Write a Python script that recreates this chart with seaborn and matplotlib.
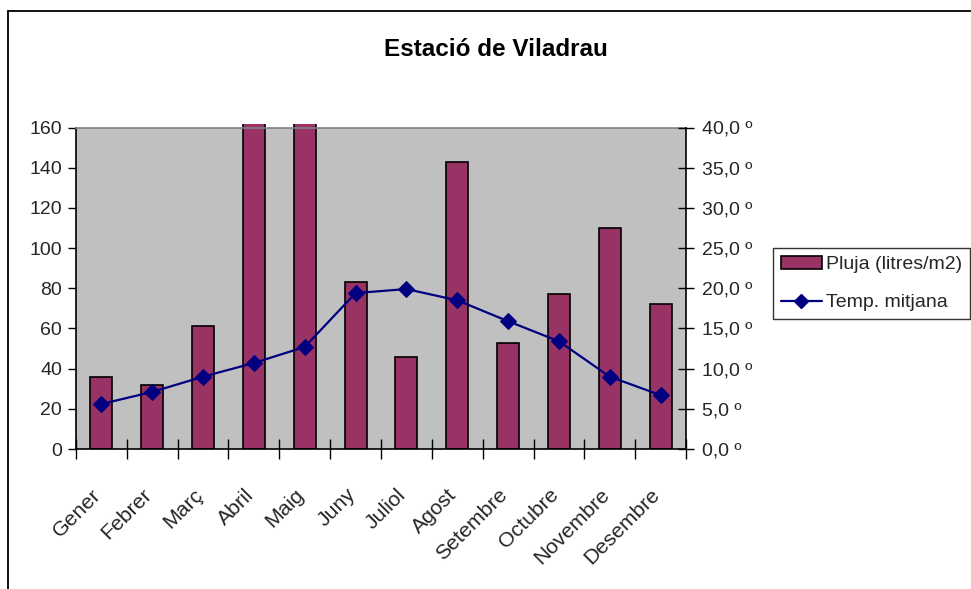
import matplotlib

matplotlib.use("Agg")
import matplotlib.pyplot as plt
import matplotlib.transforms as mtransforms
import numpy as np
import seaborn as sns
from matplotlib.lines import Line2D
from matplotlib.patches import Patch, Rectangle

# ----------------------------------------------------------------------
# Data
# ----------------------------------------------------------------------
months = ["Gener", "Febrer", "Març", "Abril", "Maig", "Juny",
          "Juliol", "Agost", "Setembre", "Octubre", "Novembre", "Desembre"]
rain = [36, 32, 61, 200, 190, 83, 46, 143, 53, 77, 110, 72]  # Abril/Maig go off the scale
temp = [5.6, 7.1, 9.0, 10.7, 12.7, 19.4, 19.9, 18.5, 15.9, 13.4, 9.0, 6.7]
rain_ticks = [0, 20, 40, 60, 80, 100, 120, 140, 160]
temp_ticks = [0, 5, 10, 15, 20, 25, 30, 35, 40]

BAR = "#993366"
LINE = "#000080"
BG = "#C0C0C0"

sns.set_theme(style="white")
plt.rcParams["font.family"] = ["Liberation Sans", "DejaVu Sans"]
FS = 14

fig = plt.figure(figsize=(9.71, 5.89), dpi=100)
ax = fig.add_axes([76 / 971, 1 - 449 / 589, 610 / 971, 321.5 / 589])
ax.set_facecolor(BG)

sns.barplot(x=months, y=rain, ax=ax, color=BAR, saturation=1, width=0.43,
            edgecolor="black", linewidth=1.2)
# let the off-scale bars poke just above the plot area, like the original
clip = Rectangle((0, 0), 1, 1.012, transform=ax.transAxes, facecolor="none")
for bar in ax.patches:
    bar.set_clip_path(clip)

ax.set_ylim(0, 160)
ax.set_xlim(-0.5, 11.5)
ax.set_yticks(rain_ticks)
ax.set_yticklabels([str(v) for v in rain_ticks], fontsize=FS)
ax.tick_params(axis="y", direction="out", length=6, width=1, color="black", pad=4, left=True)

# category labels, tick marks between categories
ax.set_xticks(np.arange(len(months)))
ax.set_xticklabels(months, rotation=45, ha="right", rotation_mode="anchor", fontsize=15.3)
ax.tick_params(axis="x", which="major", length=0, pad=26)
shift = mtransforms.ScaledTranslation(-0.10, 0, fig.dpi_scale_trans)
for lab in ax.get_xticklabels():
    lab.set_transform(lab.get_transform() + shift)
ax.set_xticks(np.arange(len(months) + 1) - 0.5, minor=True)
ax.tick_params(axis="x", which="minor", direction="inout", length=15, width=1,
               color="black", bottom=True)
ax.set_xlabel("")
ax.set_ylabel("")

for side in ["left", "bottom"]:
    ax.spines[side].set_color("black")
    ax.spines[side].set_linewidth(1.2)
ax.spines["top"].set_color("#808080")
ax.spines["top"].set_linewidth(1.2)
ax.spines["right"].set_visible(False)

ax2 = ax.twinx()
sns.lineplot(x=np.arange(len(months)), y=temp, ax=ax2, color=LINE, linewidth=1.6,
             marker="D", markersize=8, markeredgecolor=LINE, sort=False)
ax2.set_ylim(0, 40)
ax2.set_yticks(temp_ticks)
ax2.set_yticklabels([f"{v:.1f}".replace(".", ",") + " º" for v in temp_ticks], fontsize=FS)
ax2.tick_params(axis="y", direction="inout", length=11, width=1, color="black", pad=6, right=True)
ax2.set_ylabel("")
for side in ["left", "top", "bottom"]:
    ax2.spines[side].set_visible(False)
ax2.spines["right"].set_color("black")
ax2.spines["right"].set_linewidth(1.2)

# title
fig.text(496 / 971, 1 - 50 / 589, "Estació de Viladrau", ha="center", va="center",
         fontsize=17.5, fontweight="bold", color="black")

# legend
handles = [
    Patch(facecolor=BAR, edgecolor="black", linewidth=1.2, label="Pluja (litres/m2)"),
    Line2D([0], [0], color=LINE, linewidth=1.6, marker="D", markersize=7, label="Temp. mitjana"),
]
leg = fig.legend(handles=handles, loc="upper left", bbox_to_anchor=(773 / 971, 1 - 248 / 589),
                 borderaxespad=0, fontsize=14, frameon=True, fancybox=False,
                 handlelength=2.1, handletextpad=0.25, borderpad=0.4, labelspacing=1.05)
leg.get_frame().set_edgecolor("black")
leg.get_frame().set_linewidth(1.0)

# chart border (top and left visible in the reference)
y_top = 1 - 11 / 589
x_left = 8 / 971
fig.add_artist(Line2D([x_left, 1], [y_top, y_top], transform=fig.transFigure,
                      color="black", linewidth=1.3))
fig.add_artist(Line2D([x_left, x_left], [0, y_top], transform=fig.transFigure,
                      color="black", linewidth=1.3))

fig.savefig("out.png", dpi=100)
